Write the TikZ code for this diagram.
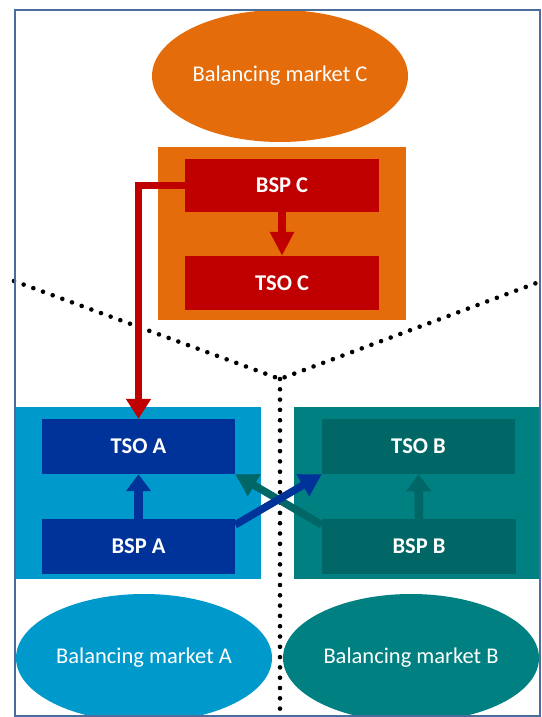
\documentclass[tikz,border=0pt]{standalone}
\usepackage{fontspec}
\setmainfont{Carlito}
\usetikzlibrary{arrows.meta,shapes.geometric,calc}
\definecolor{orangeC}{HTML}{E46C0A}
\definecolor{redC}{HTML}{C00000}
\definecolor{lightA}{HTML}{0099CC}
\definecolor{darkA}{HTML}{003399}
\definecolor{lightB}{HTML}{008080}
\definecolor{darkB}{HTML}{006666}
\definecolor{frameC}{HTML}{4B6D9B}
\begin{document}
\begin{tikzpicture}[x=1pt,y=-1pt,
  box/.style={draw=none, minimum width=193pt, minimum height=54pt, inner sep=0pt, text=white, font=\fontsize{22.5}{27}\selectfont\bfseries},
  market/.style={ellipse, minimum width=256pt, minimum height=132pt, inner sep=0pt, text=white, font=\fontsize{22.5}{27}\selectfont},
  area/.style={inner sep=0pt, anchor=north west, draw=none},
  flow/.style={line width=8.5pt, -{Triangle[width=24pt,length=17pt]}},
  xflow/.style={line width=7.5pt, -{Triangle[width=24pt,length=22pt]}},
  sepline/.style={line width=4.6pt, line cap=round, dash pattern=on 0pt off 10.3pt},
  framebox/.style={draw=frameC, line width=2.2pt, inner sep=0pt, anchor=north west}]
\useasboundingbox (0,0) rectangle (541,717);
\fill[white] (0,0) rectangle (541,717);

% market C
\node[market, fill=orangeC] (mC) at (280,76) {Balancing market C};

% areas
\node[area, fill=orangeC, minimum width=248pt, minimum height=173pt] (areaC) at (158,147) {};
\node[area, fill=lightA, minimum width=247pt, minimum height=172pt] (areaA) at (14,407) {};
\node[area, fill=lightB, minimum width=245pt, minimum height=172pt] (areaB) at (294,407) {};

% boxes
\node[box, fill=redC, minimum width=194pt, minimum height=53pt] (bspC) at (282,185.5) {BSP C};
\node[box, fill=redC, minimum width=194pt] (tsoC) at (282,283) {TSO C};
\node[box, fill=darkA, minimum height=55pt] (tsoA) at (138.5,446.5) {TSO A};
\node[box, fill=darkA, minimum height=55pt] (bspA) at (138.5,546.5) {BSP A};
\node[box, fill=darkB, minimum height=55pt] (tsoB) at (418.5,446.5) {TSO B};
\node[box, fill=darkB, minimum width=194pt, minimum height=55pt] (bspB) at (419,546.5) {BSP B};

% markets A and B
\begin{scope}
\clip (14,9) rectangle (539,715);
\node[market, fill=lightA, minimum height=128pt] (mA) at (144,658) {Balancing market A};
\node[market, fill=lightB, minimum height=128pt] (mB) at (411,658) {Balancing market B};
\end{scope}

% separators
\coordinate (dl) at (14,281);
\coordinate (dr) at (539,282);
\coordinate (dm) at (280,379);
\coordinate (db) at (280,715);
\draw[sepline] (dl) -- (dm) -- (dr);
\draw[sepline] (dm) -- (db);

% arrows
\draw[flow, redC, -{Triangle[width=23pt,length=24pt]}] (bspC.south) -- (tsoC.north);
\draw[redC, line width=7pt, -{Triangle[width=24pt,length=20pt]}] (bspC.west) -| (tsoA.north);
\draw[flow, darkA] (bspA.north) -- (tsoA.south);
\draw[flow, darkB] (bspB.north) -- (tsoB.south);
\draw[xflow, darkB] ($(bspB.north west)+(0,6)$) -- (tsoA.south east);
\draw[xflow, darkA] ($(bspA.north east)+(0,6)$) -- (tsoB.south west);

% frame
\node[framebox, minimum width=525pt, minimum height=706pt] (frame) at (14,9) {};
\end{tikzpicture}
\end{document}
